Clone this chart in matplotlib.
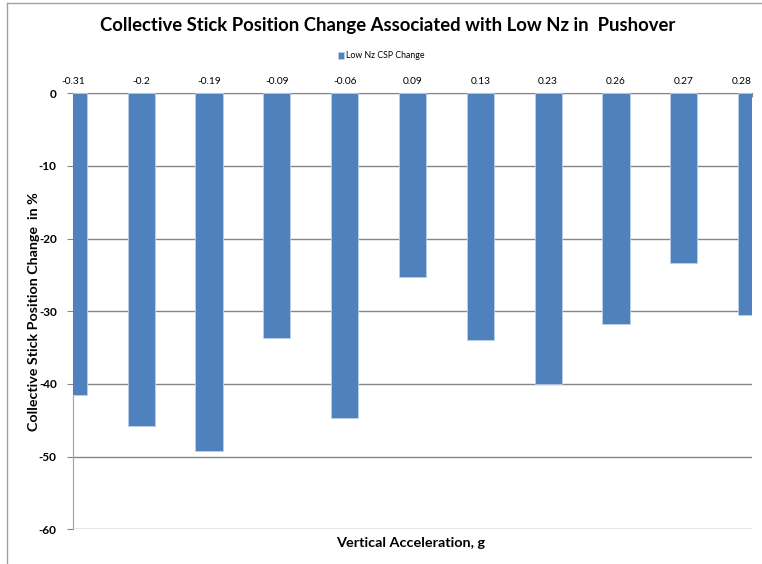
import numpy as np
import matplotlib.pyplot as plt
from matplotlib.lines import Line2D

plt.rcParams['font.family'] = ['Lato', 'DejaVu Sans']

# vertical acceleration (g) and collective stick position change (%)
accel_labels = ['-0.31', '-0.2', '-0.19', '-0.09', '-0.06', '0.09',
                '0.13', '0.23', '0.26', '0.27', '0.28']
csp_change = [-41.5, -45.8, -49.2, -33.7, -44.7, -25.3,
              -34.0, -40.0, -31.7, -23.3, -30.5]
y_ticks = [0, -10, -20, -30, -40, -50, -60]

bar_color = '#4F81BD'
grid_color = '#868686'

fig = plt.figure(figsize=(7.62, 5.64), dpi=100)
ax = fig.add_axes([73.3 / 762, 1 - 529.3 / 564, (751.7 - 73.3) / 762, (529.3 - 93.3) / 564])

x = np.arange(len(accel_labels))
ax.bar(x, csp_change, width=0.4, color=bar_color, edgecolor='#BCD0E8',
       linewidth=0.6, label='Low Nz CSP Change', zorder=3)

ax.set_xlim(0, len(accel_labels) - 1)
ax.set_ylim(-60, 0)

# category labels sit on the zero line at the top
ax.xaxis.tick_top()
ax.set_xticks(x)
ax.set_xticklabels(accel_labels, fontsize=7.3)
labels = ax.get_xticklabels()
labels[-1].set_horizontalalignment('right')
ax.tick_params(axis='x', direction='in', length=3, color=grid_color, pad=5)

ax.set_yticks(y_ticks)
ax.set_yticklabels([str(v) for v in y_ticks], fontsize=8.5, fontweight='bold')
ax.tick_params(axis='y', length=4, color=grid_color, pad=8)

ax.yaxis.grid(True, color=grid_color, linewidth=1, zorder=0)
ax.set_axisbelow(True)
for side in ['right', 'bottom']:
    ax.spines[side].set_visible(False)
ax.spines['left'].set_color('#A0A0A0')
ax.spines['top'].set_color(grid_color)

ax.set_ylabel('Collective Stick Position Change  in %', fontsize=10.3,
              fontweight='bold')
ax.yaxis.set_label_coords(-(73.3 - 40) / (751.7 - 73.3), 0.5)
fig.text(411 / 762, 1 - 543 / 564, 'Vertical Acceleration, g', fontsize=10.4,
         fontweight='bold', ha='center', va='center')

fig.text(388 / 762, 1 - 25 / 564,
         'Collective Stick Position Change Associated with Low Nz in  Pushover',
         fontsize=13.3, fontweight='bold', ha='center', va='center')

fig.legend(loc='center', bbox_to_anchor=(381 / 762, 1 - 56 / 564), frameon=False,
           fontsize=6.3, handlelength=0.7, handleheight=0.7, handletextpad=0.2)

# chart area border
fig.add_artist(Line2D([7 / 762, 7 / 762], [0, 1 - 3 / 564], color='#A0A0A0', linewidth=1))
fig.add_artist(Line2D([7 / 762, 1], [1 - 3 / 564, 1 - 3 / 564], color='#A0A0A0', linewidth=1))

fig.savefig('out.png', dpi=100)
